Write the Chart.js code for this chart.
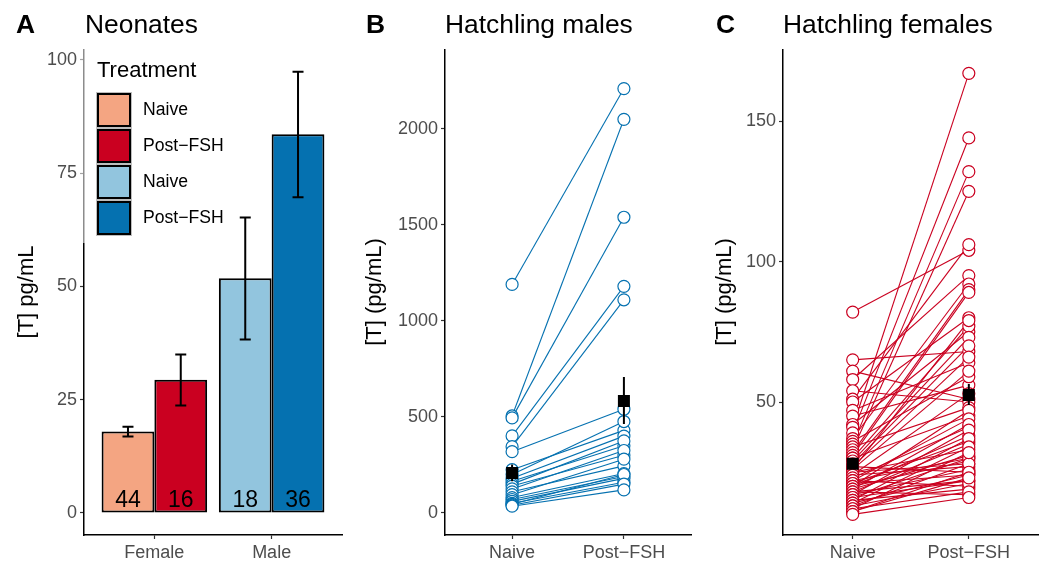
<!DOCTYPE html>
<html><head><meta charset="utf-8">
<script src="https://cdn.jsdelivr.net/npm/chart.js@4.4.1/dist/chart.umd.min.js"></script>
<style>
html,body{margin:0;padding:0;background:#fff;}
#wrap{position:relative;width:1047px;height:565px;overflow:hidden;font-family:"Liberation Sans",Arial,sans-serif;}
canvas{position:absolute;left:0;top:0;}
.t{position:absolute;white-space:nowrap;line-height:1;color:#000;}
.tag{font-weight:bold;font-size:26.4px;}
.title{font-size:26.4px;}
.ytitle{font-size:22px;width:300px;height:22px;text-align:center;transform:rotate(-90deg);}
</style></head><body>
<div id="wrap">
<canvas id="cA" width="1047" height="565"></canvas>
<canvas id="cB" width="1047" height="565"></canvas>
<canvas id="cC" width="1047" height="565"></canvas>
<div class="t tag" style="left:16px;top:11px;">A</div>
<div class="t title" style="left:85px;top:11px;">Neonates</div>
<div class="t tag" style="left:366px;top:11px;">B</div>
<div class="t title" style="left:445px;top:11px;">Hatchling males</div>
<div class="t tag" style="left:716px;top:11px;">C</div>
<div class="t title" style="left:783px;top:11px;">Hatchling females</div>
<div class="t ytitle" style="left:-124px;top:281px;">[T] pg/mL</div>
<div class="t ytitle" style="left:224px;top:281px;">[T] (pg/mL)</div>
<div class="t ytitle" style="left:574px;top:281px;">[T] (pg/mL)</div>
</div>
<script>
// ---------- data ----------
const sexCats = ['Female', 'Male'];
const treatCats = ['Naive', 'Post\u2212FSH'];
const legendLabels = ['Naive', 'Post\u2212FSH', 'Naive', 'Post\u2212FSH'];
const neoNaive = [18.0, 51.8];
const neoPost = [29.4, 83.6];
const neoNaiveLo = [16.9, 38.3];
const neoNaiveHi = [19.0, 65.2];
const neoPostLo = [23.7, 69.7];
const neoPostHi = [35.0, 97.4];
const neoNaiveN = [44, 18];
const neoPostN = [16, 36];
const yTicksA = [0, 25, 50, 75, 100];

const maleNaive = [1190, 505, 495, 401, 345, 319, 225, 200, 180, 165, 150, 140, 125, 110, 95, 80, 70, 60, 50, 45, 40, 35];
const malePost  = [2210, 2050, 1540, 1180, 1110, 540, 430, 476, 400, 350, 375, 300, 325, 245, 280, 205, 190, 180, 160, 200, 150, 120];
const maleMean = [208, 583];
const maleMeanLo = [165, 463];
const maleMeanHi = [252, 708];
const yTicksB = [0, 500, 1000, 1500, 2000];

const femNaive = [82, 65, 61, 58, 54, 51, 50, 47, 45, 42, 41, 39, 37, 36, 35, 34, 33, 32, 31, 30, 30, 29, 28, 27, 26, 26,
  20, 22, 25, 27, 18,
  25, 24, 24, 23, 22, 22, 21, 21, 20, 20, 19, 19, 18, 18, 17, 17, 16, 16, 15, 15, 14, 14, 13, 13, 12, 12, 11, 11, 10];
const femPost = [104, 68, 51, 95, 50, 106, 80, 64, 56, 75, 167, 144, 92, 59, 132, 48, 125, 90, 89, 77, 45, 73, 70, 66, 79, 61,
  47, 30, 28, 25, 22,
  33, 53, 27, 41, 20, 44, 36, 24, 38, 29, 31, 42, 17, 35, 26, 40, 22, 30, 37, 19, 34, 24, 28, 21, 32, 18, 25, 23, 16];
const femMean = [28, 52.5];
const femMeanLo = [26.2, 48.9];
const femMeanHi = [29.8, 56.4];
const yTicksC = [50, 100, 150];

// ---------- styles ----------
const FONT = "'Liberation Sans', Arial, sans-serif";
Chart.defaults.font.family = FONT;
const colNaive = ['#F4A582', '#92C5DE'];
const colPost = ['#CA0020', '#0571B0'];
const BLUE = '#0571B0', RED = '#CA0020';

function mkY(min, max, ticks) {
  return {
    type: 'linear', min: min, max: max,
    afterBuildTicks(s) { s.ticks = ticks.map(v => ({ value: v })); },
    afterFit(s) { s.width = 60; },
    grid: { display: true, drawOnChartArea: false, drawTicks: true, tickLength: 4, tickColor: '#333', tickWidth: 1.2 },
    border: { display: true, color: '#000', width: 1.5 },
    ticks: { color: '#4D4D4D', font: { size: 18 }, padding: 3, autoSkip: false, maxRotation: 0, callback: v => String(v) }
  };
}
function mkX(cats) {
  return {
    type: 'linear', min: 0.4, max: 2.6, offset: false,
    afterBuildTicks(s) { s.ticks = cats.map((c, i) => ({ value: i + 1 })); },
    afterFit(s) { s.height = 30; },
    grid: { display: true, offset: false, drawOnChartArea: false, drawTicks: true, tickLength: 4, tickColor: '#333', tickWidth: 1.2 },
    border: { display: true, color: '#000', width: 1.5 },
    ticks: { color: '#4D4D4D', font: { size: 18 }, padding: 3, autoSkip: false, maxRotation: 0, callback: v => cats[Math.round(v) - 1] }
  };
}
const basePlugins = { legend: { display: false }, tooltip: { enabled: false }, title: { display: false } };

// ---------- Panel A ----------
const plugA = {
  id: 'plugA',
  afterDatasetsDraw(chart) {
    const ctx = chart.ctx, ys = chart.scales.y;
    const sets = [[neoNaiveLo, neoNaiveHi, neoNaiveN], [neoPostLo, neoPostHi, neoPostN]];
    sets.forEach((s, di) => {
      chart.getDatasetMeta(di).data.forEach((bar, i) => {
        const x = bar.x, yl = ys.getPixelForValue(s[0][i]), yh = ys.getPixelForValue(s[1][i]);
        const cw = 5.5;
        ctx.save();
        ctx.strokeStyle = '#000'; ctx.lineWidth = 2;
        ctx.beginPath();
        ctx.moveTo(x, yl); ctx.lineTo(x, yh);
        ctx.moveTo(x - cw, yl); ctx.lineTo(x + cw, yl);
        ctx.moveTo(x - cw, yh); ctx.lineTo(x + cw, yh);
        ctx.stroke();
        ctx.fillStyle = '#000';
        ctx.font = '23px ' + FONT;
        ctx.textAlign = 'center'; ctx.textBaseline = 'alphabetic';
        ctx.fillText(String(s[2][i]), x, ys.getPixelForValue(0) - 6);
        ctx.restore();
      });
    });
  },
  afterDraw(chart) {
    const ctx = chart.ctx;
    ctx.save();
    ctx.fillStyle = 'rgba(255,255,255,0.55)';
    ctx.fillRect(77, 46, 160, 197);
    ctx.fillStyle = '#000';
    ctx.font = '22px ' + FONT;
    ctx.textAlign = 'left'; ctx.textBaseline = 'alphabetic';
    ctx.fillText('Treatment', 97, 77);
    const keyCols = [colNaive[0], colPost[0], colNaive[1], colPost[1]];
    keyCols.forEach((c, i) => {
      const top = 93 + i * 36;
      ctx.fillStyle = '#BDBDBD';
      ctx.fillRect(96, top - 1, 36, 36);
      ctx.fillStyle = c;
      ctx.fillRect(97, top, 34, 34);
      ctx.strokeStyle = '#000'; ctx.lineWidth = 2;
      ctx.strokeRect(98, top + 1, 32, 32);
      ctx.fillStyle = '#000';
      ctx.font = '17.6px ' + FONT;
      ctx.textBaseline = 'middle';
      ctx.fillText(legendLabels[i], 143, top + 17);
    });
    ctx.restore();
  }
};

new Chart(document.getElementById('cA'), {
  type: 'bar',
  data: {
    datasets: [
      { label: 'Naive', data: sexCats.map((c, i) => ({ x: i + 1, y: neoNaive[i] })), backgroundColor: colNaive,
        borderColor: '#000', borderWidth: 2, borderSkipped: false, categoryPercentage: 0.9, barPercentage: 1.0 },
      { label: 'Post-FSH', data: sexCats.map((c, i) => ({ x: i + 1, y: neoPost[i] })), backgroundColor: colPost,
        borderColor: '#000', borderWidth: 2, borderSkipped: false, categoryPercentage: 0.9, barPercentage: 1.0 }
    ]
  },
  options: {
    responsive: false, animation: false, devicePixelRatio: 1,
    layout: { padding: { left: 24, right: 705, top: 50, bottom: 0 } },
    plugins: basePlugins,
    scales: { x: mkX(sexCats), y: mkY(-4.87, 102.2, yTicksA) }
  },
  plugins: [plugA]
});

// ---------- Panels B & C ----------
function pairedChart(id, naive, post, mean, lo, hi, color, ymin, ymax, yticks, padL, padR) {
  const ds = [];
  ds.push({ type: 'scatter', data: mean.map((m, i) => ({ x: i + 1, y: m })), pointStyle: 'rect', pointRadius: 8.5,
    pointBackgroundColor: '#000', pointBorderWidth: 0, order: 0 });
  mean.forEach((m, i) => ds.push({ type: 'line', data: [{ x: i + 1, y: lo[i] }, { x: i + 1, y: hi[i] }],
    borderColor: '#000', borderWidth: 2, pointRadius: 0, order: 1 }));
  ds.push({ type: 'scatter', data: naive.map(v => ({ x: 1, y: v })).concat(post.map(v => ({ x: 2, y: v }))),
    pointRadius: 6, pointBackgroundColor: '#fff', pointBorderColor: color, pointBorderWidth: 1.2, order: 2 });
  naive.forEach((v, i) => ds.push({ type: 'line', data: [{ x: 1, y: v }, { x: 2, y: post[i] }],
    borderColor: color, borderWidth: 1.1, pointRadius: 0, order: 3 }));
  new Chart(document.getElementById(id), {
    type: 'scatter',
    data: { datasets: ds },
    options: {
      responsive: false, animation: false, devicePixelRatio: 1,
      layout: { padding: { left: padL, right: padR, top: 50, bottom: 0 } },
      plugins: basePlugins,
      scales: { x: mkX(treatCats), y: mkY(ymin, ymax, yticks) }
    }
  });
}
pairedChart('cB', maleNaive, malePost, maleMean, maleMeanLo, maleMeanHi, BLUE, -115, 2411, yTicksB, 385, 356);
pairedChart('cC', femNaive, femPost, femMean, femMeanLo, femMeanHi, RED, 2.66, 175.3, yTicksC, 723, 4);
</script>
</body></html>
